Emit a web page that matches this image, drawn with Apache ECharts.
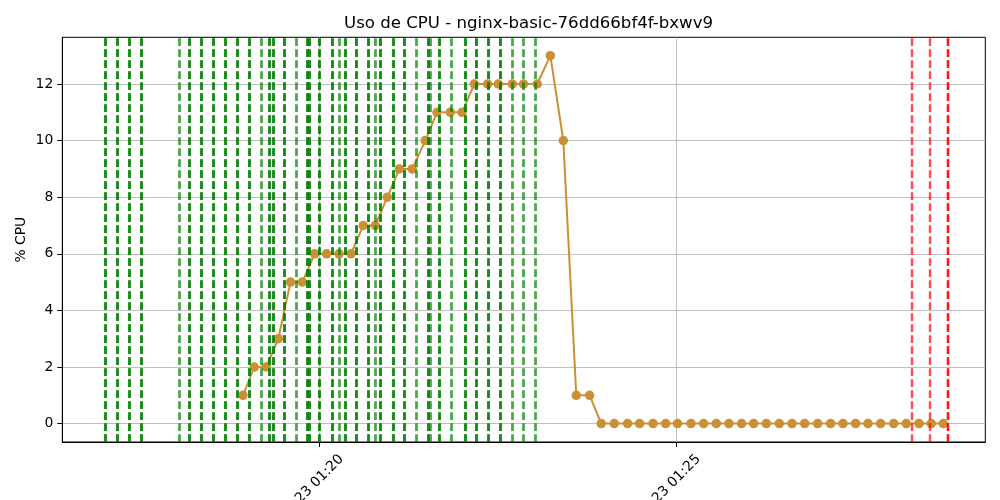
<!DOCTYPE html>
<html><head><meta charset="utf-8">
<script src="https://cdn.jsdelivr.net/npm/echarts@6/dist/echarts.min.js"></script>
<style>html,body{margin:0;padding:0;background:#fff}#c{width:1000px;height:500px}</style>
</head><body><div id="c"></div>
<script>
const chartTitle = 'Uso de CPU - nginx-basic-76dd66bf4f-bxwv9';
const yAxisName = '% CPU';
const sampleTimes = [
  '01:18:55.6','01:19:05.1','01:19:15.2','01:19:25.3','01:19:35.6','01:19:45.5','01:19:55.8','01:20:05.9','01:20:16.3','01:20:26.4',
  '01:20:36.7','01:20:46.8','01:20:56.9','01:21:07.0','01:21:17.9','01:21:28.8','01:21:38.7','01:21:49.8','01:21:59.7','01:22:10.0',
  '01:22:21.2','01:22:30.2','01:22:41.9','01:22:51.4','01:23:02.9','01:23:13.9','01:23:24.8','01:23:35.7','01:23:46.9','01:23:56.7',
  '01:24:07.6','01:24:18.8','01:24:28.9','01:24:40.2','01:24:50.8','01:25:00.8','01:25:12.1','01:25:22.7','01:25:33.4','01:25:44.0',
  '01:25:54.6','01:26:04.7','01:26:15.4','01:26:26.3','01:26:37.0','01:26:47.6','01:26:58.5','01:27:09.4','01:27:19.8','01:27:30.4',
  '01:27:40.8','01:27:51.4','01:28:02.4','01:28:13.0','01:28:23.7','01:28:34.0','01:28:44.1'
];
const cpuValues = [
  1,2,2,3,5,5,6,6,6,6,
  7,7,8,9,9,10,11,11,11,12,
  12,12,12,12,12,13,10,1,1,0,
  0,0,0,0,0,0,0,0,0,0,
  0,0,0,0,0,0,0,0,0,0,
  0,0,0,0,0,0,0
];
const greenEventTimes = [
  '01:17:00','01:17:00','01:17:10.3','01:17:10.3','01:17:20.3','01:17:20.3','01:17:30.4','01:17:30.4',
  '01:18:01.8','01:18:10.3','01:18:10.3','01:18:20.3','01:18:20.3','01:18:30.4','01:18:30.4','01:18:40.5','01:18:40.5',
  '01:18:50.6','01:18:50.6','01:19:00.7','01:19:00.7','01:19:10.8','01:19:18.0','01:19:18.0','01:19:20.8','01:19:20.8',
  '01:19:30.3','01:19:30.3','01:19:40.4','01:19:49.4','01:19:49.4','01:19:51.1','01:19:51.1','01:20:00','01:20:00',
  '01:20:10.7','01:20:10.7','01:20:16.8','01:20:21.3','01:20:21.3','01:20:30.8','01:20:30.8','01:20:40.9','01:20:40.9',
  '01:20:47.1','01:20:51.0','01:20:51.0','01:21:01.7','01:21:01.7','01:21:10.9','01:21:10.9','01:21:21.0',
  '01:21:31.1','01:21:31.1','01:21:32.8','01:21:40.6','01:21:40.6','01:21:50.7','01:22:02.4','01:22:02.4',
  '01:22:11.4','01:22:11.4','01:22:21.5','01:22:21.5','01:22:32.1','01:22:32.1','01:22:41.7','01:22:51.2','01:23:01.3'
];
const redEventTimes = ['01:28:17.6','01:28:33.0','01:28:47.5','01:28:47.5'];
const xTickTimes = ['01:20:00','01:25:00'];
const yTicks = [0,2,4,6,8,10,12];
const xRange = ['01:16:23.8','01:29:19.4'];
const yRange = [-0.65, 13.65];

const DAY0 = Date.UTC(2025,4,23);
function toMs(t){ const p=t.split(':'); return DAY0 + ((+p[0]*60 + +p[1])*60 + parseFloat(p[2]))*1000; }
function pad(n){ return (n<10?'0':'')+n; }
function fmt(v){ const d=new Date(v); return pad(d.getUTCDate())+' '+pad(d.getUTCHours())+':'+pad(d.getUTCMinutes()); }

const FONT = 'DejaVu Sans';
const chart = echarts.init(document.getElementById('c'), null, {renderer:'canvas'});
const dashed = [7.7, 3.3];
chart.setOption({
  animation: false,
  backgroundColor: '#ffffff',
  title: {
    text: chartTitle, left: 523.5, top: 10, textAlign: 'center',
    textStyle: {fontFamily: FONT, fontSize: 16.6, fontWeight: 'normal', color: '#000'}
  },
  grid: {left: 62.3, right: 14.7, top: 37.3, bottom: 58, show: true, borderColor: '#000', borderWidth: 1,
    backgroundColor: 'transparent', containLabel: false, outerBoundsMode: 'none'},
  xAxis: {
    type: 'value', min: toMs(xRange[0]), max: toMs(xRange[1]),
    axisLine: {show: true, onZero: false, lineStyle: {color: '#000', width: 1}},
    axisTick: {show: true, length: 5, lineStyle: {color: '#000'}, customValues: xTickTimes.map(toMs)},
    axisLabel: {show: true, customValues: xTickTimes.map(toMs), formatter: fmt, rotate: 45, align: 'center', verticalAlign: 'middle', margin: 37,
      fontFamily: FONT, fontSize: 13.9, color: '#000'},
    splitLine: {show: true, lineStyle: {color: '#b0b0b0', width: 0.8}}
  },
  yAxis: {
    type: 'value', min: yRange[0], max: yRange[1],
    name: yAxisName, nameLocation: 'middle', nameGap: 34, nameMoveOverlap: false,
    nameTextStyle: {fontFamily: FONT, fontSize: 13.9, color: '#000'},
    axisLine: {show: true, onZero: false, lineStyle: {color: '#000', width: 1}},
    axisTick: {show: true, length: 5, lineStyle: {color: '#000'}, customValues: yTicks},
    axisLabel: {show: true, customValues: yTicks, margin: 9, fontFamily: FONT, fontSize: 13.9, color: '#000'},
    splitLine: {show: true, lineStyle: {color: '#b0b0b0', width: 0.8}}
  },
  series: [
    {
      type: 'line', data: [], silent: true, z: 2,
      markLine: {silent: true, symbol: ['none','none'], label: {show: false}, animation: false,
        lineStyle: {color: '#008000', opacity: 0.7, width: 2.8, type: dashed},
        emphasis: {disabled: true},
        data: greenEventTimes.map(t => ({xAxis: toMs(t)}))}
    },
    {
      type: 'line', z: 3,
      data: sampleTimes.map((t,i) => [toMs(t), cpuValues[i]]),
      color: '#cb9036',
      symbol: 'circle', symbolSize: 9.5, showSymbol: true,
      lineStyle: {color: '#cb9036', width: 2},
      itemStyle: {color: '#cb9036'}
    },
    {
      type: 'line', data: [], silent: true, z: 4,
      markLine: {silent: true, symbol: ['none','none'], label: {show: false}, animation: false,
        lineStyle: {color: '#ff0000', opacity: 0.7, width: 2.4, type: dashed},
        emphasis: {disabled: true},
        data: redEventTimes.map(t => ({xAxis: toMs(t)}))}
    }
  ]
});
</script>
</body></html>
